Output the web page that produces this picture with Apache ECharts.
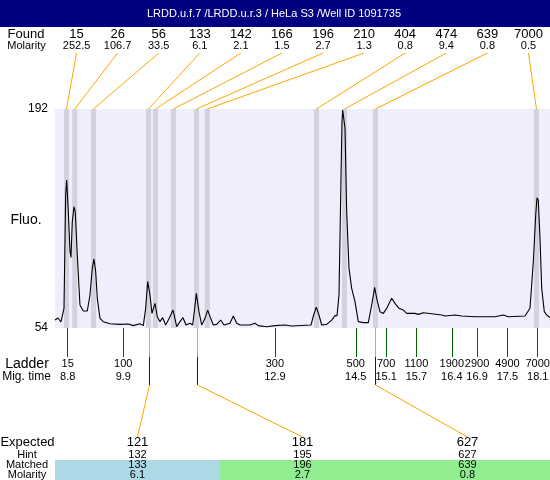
<!DOCTYPE html>
<html><head><meta charset="utf-8">
<script src="https://cdn.jsdelivr.net/npm/echarts@6/dist/echarts.min.js"></script>
<style>html,body{margin:0;padding:0;background:#fff}#c{width:550px;height:480px}</style>
</head><body><div id="c"></div>
<script>
const titleText = 'LRDD.u.f.7 /LRDD.u.r.3 / HeLa S3 /Well ID 1091735';
const foundSizes = [15, 26, 56, 133, 142, 166, 196, 210, 404, 474, 639, 7000];
const foundMolarity = ['252.5', '106.7', '33.5', '6.1', '2.1', '1.5', '2.7', '1.3', '0.8', '9.4', '0.8', '0.5'];
const foundTimes = [8.776, 8.939, 9.311, 10.399, 10.537, 10.893, 11.349, 11.562, 13.723, 14.277, 14.890, 18.076];
const ladderSizes = [15, 100, 300, 500, 700, 1100, 1900, 2900, 4900, 7000];
const ladderTimes = [8.8, 9.9, 12.9, 14.5, 15.1, 15.7, 16.4, 16.9, 17.5, 18.1];
const expected = [121, 181, 627];
const hint = [132, 195, 627];
const matched = [133, 196, 639];
const matchedMolarity = ['6.1', '2.7', '0.8'];
const fluoTicks = [54, 192];
const traceTime = [8.549,8.608,8.667,8.727,8.760,8.780,8.812,8.846,8.865,8.891,8.925,8.950,8.990,9.043,9.109,9.188,9.241,9.287,9.320,9.354,9.386,9.439,9.504,9.637,9.835,9.999,10.098,10.231,10.296,10.343,10.383,10.428,10.468,10.527,10.573,10.626,10.680,10.739,10.810,10.884,10.957,11.022,11.081,11.141,11.220,11.273,11.313,11.345,11.398,11.451,11.517,11.570,11.629,11.681,11.748,11.827,11.893,12.011,12.077,12.144,12.209,12.407,12.506,12.571,12.738,12.902,13.100,13.133,13.232,13.614,13.667,13.719,13.772,13.826,13.925,14.024,14.089,14.129,14.168,14.202,14.227,14.241,14.267,14.287,14.320,14.366,14.419,14.485,14.550,14.649,14.748,14.815,14.874,14.914,14.979,15.045,15.112,15.211,15.276,15.355,15.440,15.508,15.672,15.737,15.836,16.002,16.200,16.265,16.463,16.596,16.859,17.122,17.255,17.419,17.518,17.848,17.947,18.013,18.060,18.086,18.111,18.145,18.179,18.230,18.278,18.343];
const traceFluo = [59.0,60.3,57.8,66.4,137.8,147.3,127.3,102.1,98.5,121.0,130.4,127.3,100.0,68.5,64.7,64.7,74.8,91.6,97.5,89.5,72.7,60.1,58.0,56.7,56.3,56.5,55.5,56.7,55.5,66.4,83.2,74.8,63.2,69.5,61.1,58.0,60.5,55.9,60.1,65.3,54.8,58.0,60.5,55.9,57.0,55.9,66.4,75.8,64.3,55.9,60.1,65.3,60.1,55.9,56.3,59.0,55.9,57.0,61.6,57.0,55.9,55.9,57.0,55.5,54.8,55.5,55.9,56.3,55.3,55.9,62.2,67.2,62.2,55.9,56.3,59.0,61.8,61.8,74.8,137.8,184.0,191.4,191.4,179.8,127.3,91.6,79.0,70.6,58.0,57.4,57.4,68.5,79.6,72.7,64.3,63.2,66.4,72.7,69.5,66.4,65.3,63.2,63.2,62.6,63.6,63.0,62.2,61.6,62.2,61.6,61.1,61.1,61.1,62.2,61.1,61.6,66.4,95.8,125.2,136.1,134.7,110.5,79.0,64.3,62.2,60.5];
const cellColors = ['#ADD8E6', '#90EE90', '#90EE90'];

const FF = '"Liberation Sans", Arial, sans-serif';
const X_MIN = 8.549, X_MAX = 18.343;
const chart = echarts.init(document.getElementById('c'), null, {renderer: 'canvas'});
const traceData = traceTime.map((t, i) => [t, traceFluo[i]]);
const bands = foundTimes.map(t => [{xAxis: t - 0.05}, {xAxis: t + 0.05}]);

const option = {
  animation: false,
  textStyle: {fontFamily: FF},
  grid: [
    {left: 55, right: 0, top: 109, height: 219, show: true, backgroundColor: '#EEEEFC', borderWidth: 0, containLabel: false, outerBoundsMode: 'none'},
    {left: 56, right: 1, top: 53, height: 1, containLabel: false, outerBoundsMode: 'none'},
    {left: 55, right: 0, top: 460, height: 20, containLabel: false, outerBoundsMode: 'none'}
  ],
  xAxis: [
    {gridIndex: 0, type: 'value', min: X_MIN, max: X_MAX,
     axisLine: {show: false}, splitLine: {show: false},
     axisTick: {show: true, customValues: ladderTimes, length: 29, inside: false, lineStyle: {color: '#006400', width: 1}},
     axisLabel: {show: true, customValues: ladderTimes, margin: 29, hideOverlap: false,
       formatter: v => {
         let k = 0, best = 1e9;
         ladderTimes.forEach((t, i) => { const d = Math.abs(t - v); if (d < best) { best = d; k = i; } });
         return '{a|' + ladderSizes[k] + '}\n{b|' + ladderTimes[k].toFixed(1) + '}';
       },
       rich: {a: {fontSize: 11, lineHeight: 13, color: '#000', fontFamily: FF}, b: {fontSize: 11, lineHeight: 13, color: '#000', fontFamily: FF}}}},
    {gridIndex: 1, type: 'category', data: foundSizes.map(String), position: 'top',
     axisLine: {show: false}, axisTick: {show: false}, splitLine: {show: false},
     axisLabel: {interval: 0, margin: 1, hideOverlap: false,
       formatter: (v, i) => '{f|' + v + '}\n{m|' + foundMolarity[i] + '}',
       rich: {f: {fontSize: 13, lineHeight: 12, color: '#000', fontFamily: FF}, m: {fontSize: 11, lineHeight: 12, color: '#000', fontFamily: FF}}}},
    {gridIndex: 2, type: 'category', data: expected.map(String), position: 'top',
     axisLine: {show: false}, axisTick: {show: false}, splitLine: {show: false},
     axisLabel: {interval: 0, margin: 0, hideOverlap: false,
       formatter: (v, i) => '{e|' + v + '}\n{h|' + hint[i] + '}',
       rich: {e: {fontSize: 13, lineHeight: 15, color: '#000', fontFamily: FF}, h: {fontSize: 11, lineHeight: 10, color: '#000', fontFamily: FF}}}}
  ],
  yAxis: [
    {gridIndex: 0, type: 'value', min: fluoTicks[0], max: fluoTicks[1], interval: fluoTicks[1] - fluoTicks[0],
     axisLine: {show: false}, axisTick: {show: false}, splitLine: {show: false},
     axisLabel: {fontSize: 12, color: '#000', margin: 7, fontFamily: FF}},
    {gridIndex: 1, type: 'value', min: 0, max: 1, show: false},
    {gridIndex: 2, type: 'value', min: 0, max: 1, show: false}
  ],
  series: [
    {type: 'line', xAxisIndex: 0, yAxisIndex: 0, data: traceData, showSymbol: false, symbol: 'none', silent: true,
     lineStyle: {color: '#000', width: 1.1},
     markArea: {silent: true, itemStyle: {color: '#D3D3DF'}, data: bands}},
    {type: 'bar', xAxisIndex: 2, yAxisIndex: 2, barWidth: '100%', silent: true,
     data: matched.map((m, i) => ({value: 1, itemStyle: {color: cellColors[i]}})),
     label: {show: true, position: 'inside',
       formatter: p => '{m|' + matched[p.dataIndex] + '}\n{r|' + matchedMolarity[p.dataIndex] + '}',
       rich: {m: {fontSize: 11, lineHeight: 10, color: '#000', fontFamily: FF}, r: {fontSize: 11, lineHeight: 10, color: '#000', fontFamily: FF}}}}
  ]
};
chart.setOption(option);

function txt(text, x, y, size, color) {
  return {type: 'text', x: x, y: y, silent: true, z: 100,
    style: {text: text, font: size + 'px ' + FF, fill: color || '#000',
      align: 'center', verticalAlign: 'middle', textAlign: 'center', textVerticalAlign: 'middle'}};
}
function ln(x1, y1, x2, y2, color) {
  return {type: 'line', silent: true, z: 50, shape: {x1: x1, y1: y1, x2: x2, y2: y2}, style: {stroke: color, lineWidth: 1}};
}
const els = [];
els.push({type: 'rect', silent: true, z: 40, shape: {x: 0, y: 0, width: 550, height: 27}, style: {fill: '#000080'}});
els.push(txt(titleText, 274, 14, 11, '#fff'));
els.push(txt('Found', 26, 34, 13));
els.push(txt('Molarity', 26.5, 46, 11));
els.push(txt('Fluo.', 26, 220, 14));
els.push(txt('Ladder', 27, 364, 14));
els.push(txt('Mig. time', 26.5, 377, 12));
els.push(txt('Expected', 27.5, 442.5, 13));
els.push(txt('Hint', 27, 455, 11));
els.push(txt('Matched', 27, 465, 11));
els.push(txt('Molarity', 27, 475, 11));

foundTimes.forEach((t, i) => {
  const top = chart.convertToPixel({gridIndex: 1}, [i, 1]);
  const bot = chart.convertToPixel({gridIndex: 0}, [t, fluoTicks[1]]);
  els.push(ln(top[0], top[1], bot[0], bot[1], '#FFA500'));
});
matched.forEach((m, j) => {
  const k = foundSizes.indexOf(m);
  const p = chart.convertToPixel({gridIndex: 0}, [foundTimes[k], fluoTicks[0]]);
  const x = Math.round(p[0]) + 0.5;
  const col = chart.convertToPixel({gridIndex: 2}, [j, 1]);
  els.push(ln(x, p[1], x, 357, '#FFA500'));
  els.push(ln(x, 357, x, 385, '#0000FF'));
  els.push(ln(x, 385, col[0], col[1] - 23, '#FFA500'));
});
chart.setOption({graphic: {elements: els}});
</script></body></html>
